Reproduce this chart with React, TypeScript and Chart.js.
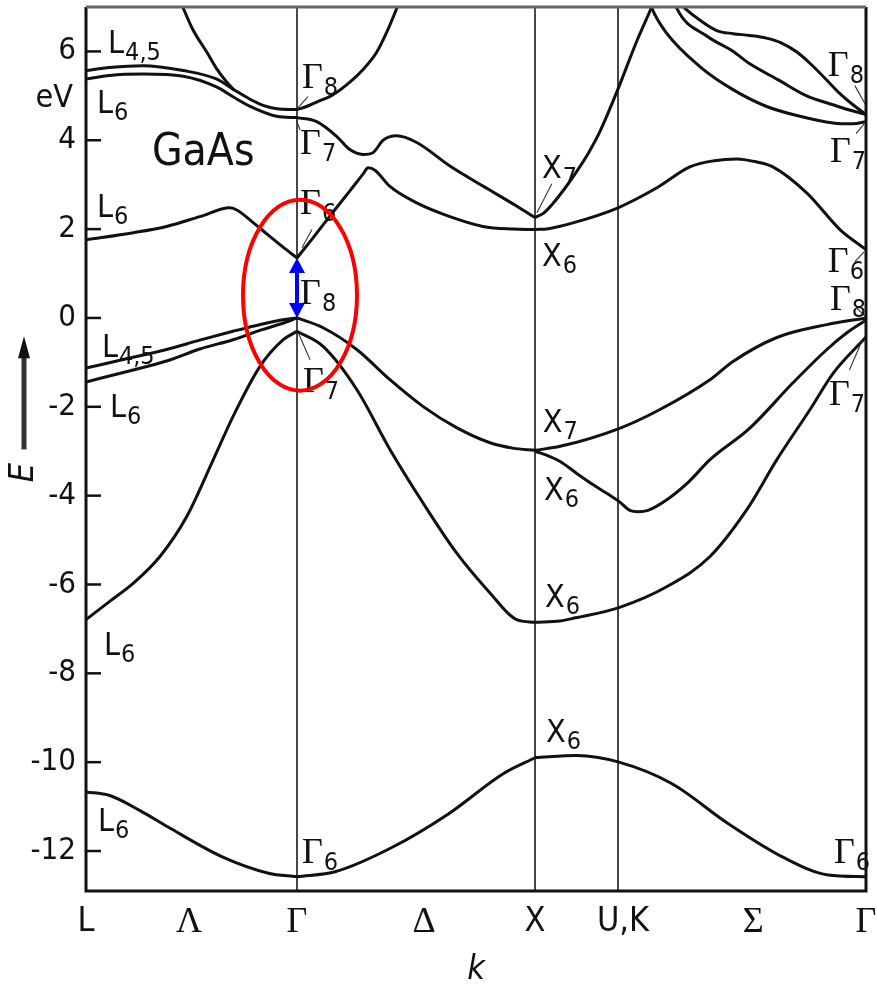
import { useEffect, useRef } from 'react';
import { Chart, registerables } from 'chart.js';
import type { Plugin, ChartConfiguration } from 'chart.js';

Chart.register(...registerables);

type Pt = [number, number];

const NARROW = "'Liberation Sans Narrow', 'DejaVu Sans Condensed', 'Roboto Condensed', sans-serif";
const SERIF = "'Liberation Serif', 'DejaVu Serif', serif";
const INK = '#111';

// k-path coordinate: L – Γ – X – U,K – Γ
const kMin = 0;
const kMax = 3.29;
const symmetryLinesK = [0.89, 1.894, 2.244];
const kTickPos = [0, 0.435, 0.89, 1.426, 1.894, 2.265, 2.814, 3.29];
const kTickText = ['L', 'Λ', 'Γ', 'Δ', 'X', 'U,K', 'Σ', 'Γ'];

// energy axis (eV)
const eMin = -12.9;
const eMax = 7;
const eTickValues = [-12, -10, -8, -6, -4, -2, 0, 2, 4, 6];

// ---- upper conduction bands ----
const upL45: Pt[] = [[0, 5.57], [0.1, 5.64], [0.24, 5.68], [0.41, 5.57], [0.55, 5.38], [0.62, 5.15], [0.69, 4.93], [0.75, 4.78], [0.805, 4.71], [0.89, 4.69]];
const upL6: Pt[] = [[0, 5.38], [0.1, 5.46], [0.24, 5.49], [0.41, 5.44], [0.55, 5.2], [0.62, 4.98], [0.69, 4.77], [0.805, 4.54], [0.89, 4.51]];
const g8Lambda: Pt[] = [[0.4, 7.1], [0.45, 6.5], [0.51, 5.98], [0.55, 5.62], [0.595, 5.3], [0.625, 5.13]];
const g8Delta: Pt[] = [[0.89, 4.69], [0.93, 4.76], [0.973, 4.86], [1.04, 5.02], [1.113, 5.31], [1.17, 5.6], [1.226, 5.98], [1.27, 6.45], [1.31, 6.96], [1.32, 7.1]];
const g7Delta: Pt[] = [[0.89, 4.51], [0.973, 4.42], [1.057, 4.09], [1.113, 3.79], [1.168, 3.68], [1.21, 3.72], [1.253, 4.0], [1.31, 4.1], [1.395, 3.95], [1.535, 3.42], [1.674, 2.97], [1.816, 2.52], [1.894, 2.26]];
const x7Up: Pt[] = [[1.894, 2.26], [1.93, 2.36], [1.97, 2.58], [2.02, 2.92], [2.07, 3.3], [2.12, 3.72], [2.168, 4.2], [2.24, 5.1], [2.32, 6.19], [2.386, 7.0], [2.395, 7.12]];
const sigmaUp1: Pt[] = [[2.38, 7.08], [2.386, 6.98], [2.449, 6.41], [2.589, 5.66], [2.729, 5.14], [2.871, 4.76], [3.011, 4.54], [3.151, 4.39], [3.235, 4.37], [3.29, 4.42]];
const sigmaUp2: Pt[] = [[2.485, 7.08], [2.491, 6.98], [2.62, 6.34], [2.73, 6.0], [2.8, 5.72], [2.92, 5.36], [3.04, 5.0], [3.15, 4.8], [3.22, 4.68], [3.29, 4.58]];
const sigmaUp3: Pt[] = [[2.506, 7.08], [2.53, 6.95], [2.59, 6.7], [2.66, 6.47], [2.73, 6.4], [2.8, 6.36], [2.87, 6.3], [2.93, 6.2], [3.0, 5.98], [3.06, 5.7], [3.12, 5.38], [3.18, 5.05], [3.235, 4.8], [3.29, 4.58]];

// ---- lowest conduction band ----
const cbLambda: Pt[] = [[0, 1.76], [0.2, 1.92], [0.34, 2.06], [0.48, 2.28], [0.607, 2.48], [0.64, 2.42], [0.7, 2.17], [0.77, 1.86], [0.83, 1.6], [0.89, 1.35]];
const cbDelta: Pt[] = [[0.89, 1.35], [0.96, 1.82], [1.043, 2.39], [1.113, 2.86], [1.17, 3.25], [1.19, 3.38], [1.22, 3.32], [1.282, 2.96], [1.395, 2.59], [1.535, 2.28], [1.674, 2.06], [1.8, 2.0], [1.894, 1.99]];
const cbSigma: Pt[] = [[1.894, 1.99], [1.95, 2.01], [2.054, 2.14], [2.244, 2.48], [2.408, 2.93], [2.547, 3.4], [2.65, 3.54], [2.746, 3.58], [2.82, 3.52], [2.897, 3.4], [3.041, 2.81], [3.18, 1.99], [3.29, 1.54]];

// ---- valence bands ----
const vbL45: Pt[] = [[0, -1.13], [0.17, -0.92], [0.34, -0.71], [0.48, -0.5], [0.62, -0.3], [0.74, -0.14], [0.83, -0.04], [0.89, 0]];
const vbL6: Pt[] = [[0, -1.44], [0.17, -1.21], [0.34, -0.97], [0.48, -0.7], [0.62, -0.49], [0.74, -0.27], [0.83, -0.12], [0.89, 0]];
const soLambda: Pt[] = [[0, -6.79], [0.1, -6.38], [0.2, -5.97], [0.312, -5.37], [0.425, -4.47], [0.537, -3.19], [0.621, -2.21], [0.734, -1.09], [0.832, -0.49], [0.89, -0.3]];
const hhDelta: Pt[] = [[0.89, 0], [1.0, -0.22], [1.142, -0.71], [1.282, -1.39], [1.421, -1.99], [1.563, -2.47], [1.704, -2.81], [1.8, -2.93], [1.894, -2.98]];
const soDelta: Pt[] = [[0.89, -0.3], [1.0, -0.64], [1.142, -1.61], [1.282, -2.96], [1.421, -4.16], [1.563, -5.29], [1.704, -6.19], [1.816, -6.79], [1.894, -6.85]];
const hhSigma: Pt[] = [[1.894, -2.98], [2.0, -2.89], [2.248, -2.49], [2.421, -2.06], [2.632, -1.39], [2.729, -0.98], [2.914, -0.44], [3.125, -0.15], [3.29, 0]];
const lhSigma: Pt[] = [[1.894, -3.0], [1.957, -3.12], [2.0, -3.23], [2.07, -3.5], [2.138, -3.75], [2.2, -3.96], [2.248, -4.13], [2.294, -4.33], [2.33, -4.36], [2.37, -4.33], [2.45, -4.09], [2.54, -3.7], [2.632, -3.19], [2.8, -2.48], [2.982, -1.46], [3.125, -0.71], [3.208, -0.34], [3.29, -0.05]];
const soSigma: Pt[] = [[1.894, -6.85], [2.0, -6.82], [2.065, -6.75], [2.248, -6.52], [2.453, -6.04], [2.632, -5.37], [2.788, -4.31], [2.914, -3.19], [3.054, -2.06], [3.152, -1.24], [3.29, -0.43]];

// ---- deepest (s-like) valence band ----
const sLambda: Pt[] = [[0, -10.67], [0.1, -10.75], [0.228, -11.09], [0.346, -11.46], [0.582, -12.15], [0.77, -12.5], [0.89, -12.58]];
const sDelta: Pt[] = [[0.89, -12.58], [1.054, -12.46], [1.29, -11.92], [1.527, -11.17], [1.763, -10.25], [1.894, -9.9]];
const sSigma: Pt[] = [[1.894, -9.9], [2.07, -9.85], [2.248, -10.0], [2.47, -10.48], [2.708, -11.38], [2.944, -12.15], [3.13, -12.54], [3.29, -12.58]];

const bandSegments: Pt[][] = [
  upL45, upL6, g8Lambda, g8Delta, g7Delta, x7Up, sigmaUp1, sigmaUp2, sigmaUp3,
  cbLambda, cbDelta, cbSigma,
  vbL45, vbL6, soLambda, hhDelta, soDelta, hhSigma, lhSigma, soSigma,
  sLambda, sDelta, sSigma,
];

// direct gap at Γ: Γ8 (valence top) to Γ6 (conduction bottom)
const gapK = 0.89;
const gapValence = 0;
const gapConduction = 1.35;

// level labels: main letter + subscript, anchored at left/baseline
const bandTags: { k: number; e: number; main: string; sub: string }[] = [
  { k: 0.093, e: 5.97, main: 'L', sub: '4,5' },
  { k: 0.046, e: 4.62, main: 'L', sub: '6' },
  { k: 0.046, e: 2.28, main: 'L', sub: '6' },
  { k: 0.067, e: -0.89, main: 'L', sub: '4,5' },
  { k: 0.101, e: -2.24, main: 'L', sub: '6' },
  { k: 0.076, e: -7.58, main: 'L', sub: '6' },
  { k: 0.051, e: -11.56, main: 'L', sub: '6' },
  { k: 0.911, e: 5.18, main: 'Γ', sub: '8' },
  { k: 0.903, e: 3.68, main: 'Γ', sub: '7' },
  { k: 0.903, e: 2.33, main: 'Γ', sub: '6' },
  { k: 0.903, e: 0.32, main: 'Γ', sub: '8' },
  { k: 0.915, e: -1.66, main: 'Γ', sub: '7' },
  { k: 0.911, e: -12.26, main: 'Γ', sub: '6' },
  { k: 1.923, e: 3.16, main: 'X', sub: '7' },
  { k: 1.923, e: 1.18, main: 'X', sub: '6' },
  { k: 1.927, e: -2.56, main: 'X', sub: '7' },
  { k: 1.932, e: -4.09, main: 'X', sub: '6' },
  { k: 1.936, e: -6.5, main: 'X', sub: '6' },
  { k: 1.94, e: -9.54, main: 'X', sub: '6' },
  { k: 3.129, e: 5.45, main: 'Γ', sub: '8' },
  { k: 3.138, e: 3.5, main: 'Γ', sub: '7' },
  { k: 3.129, e: 1.04, main: 'Γ', sub: '6' },
  { k: 3.138, e: 0.19, main: 'Γ', sub: '8' },
  { k: 3.134, e: -1.95, main: 'Γ', sub: '7' },
  { k: 3.155, e: -12.26, main: 'Γ', sub: '6' },
];

// short leader strokes from a label to its level: [k1, e1, k2, e2]
const leaderLines: [number, number, number, number][] = [
  [0.936, 4.98, 0.894, 4.73],
  [0.887, 4.46, 0.903, 4.23],
  [0.953, 1.99, 0.911, 1.58],
  [0.896, -0.34, 0.945, -0.94],
  [1.965, 3.02, 1.902, 2.37],
  [3.243, 5.23, 3.286, 4.82],
  [3.248, 4.15, 3.282, 4.37],
  [3.243, 1.27, 3.282, 1.49],
  [3.25, 0.23, 3.286, 0.04],
  [3.22, -1.17, 3.275, -0.49],
];

const decor: Plugin<'scatter'> = {
  id: 'bandDecor',
  beforeDatasetsDraw(chart) {
    const { ctx, chartArea: a } = chart;
    const xs = chart.scales.x;
    ctx.save();
    ctx.strokeStyle = '#333';
    ctx.lineWidth = 1.8;
    for (const k of symmetryLinesK) {
      const px = xs.getPixelForValue(k);
      ctx.beginPath();
      ctx.moveTo(px, a.top);
      ctx.lineTo(px, a.bottom);
      ctx.stroke();
    }
    ctx.restore();
  },
  afterDatasetsDraw(chart) {
    const { ctx, chartArea: a } = chart;
    const xs = chart.scales.x;
    const ys = chart.scales.y;
    const px = (k: number) => xs.getPixelForValue(k);
    const py = (e: number) => ys.getPixelForValue(e);
    ctx.save();

    // frame
    ctx.lineWidth = 3;
    ctx.strokeStyle = INK;
    ctx.beginPath();
    ctx.moveTo(a.left, a.top);
    ctx.lineTo(a.left, a.bottom);
    ctx.lineTo(a.right, a.bottom);
    ctx.lineTo(a.right, a.top);
    ctx.stroke();
    ctx.strokeStyle = '#666';
    ctx.beginPath();
    ctx.moveTo(a.left, a.top);
    ctx.lineTo(a.right, a.top);
    ctx.stroke();

    // inward tick marks on the energy axis
    ctx.strokeStyle = INK;
    ctx.lineWidth = 2.5;
    for (const v of eTickValues) {
      const y = py(v);
      ctx.beginPath();
      ctx.moveTo(a.left, y);
      ctx.lineTo(a.left + 15, y);
      ctx.stroke();
    }

    // leaders
    ctx.strokeStyle = '#333';
    ctx.lineWidth = 1.1;
    for (const [k1, e1, k2, e2] of leaderLines) {
      ctx.beginPath();
      ctx.moveTo(px(k1), py(e1));
      ctx.lineTo(px(k2), py(e2));
      ctx.stroke();
    }

    // level labels
    ctx.fillStyle = INK;
    ctx.textAlign = 'left';
    ctx.textBaseline = 'alphabetic';
    for (const t of bandTags) {
      const x = px(t.k);
      const y = py(t.e);
      ctx.font = t.main === 'Γ' ? `36px ${SERIF}` : `32px ${NARROW}`;
      ctx.fillText(t.main, x, y);
      const w = ctx.measureText(t.main).width;
      ctx.font = `25px ${NARROW}`;
      ctx.fillText(t.sub, x + w + 1, y + 7);
    }

    // material name
    ctx.font = `44px ${NARROW}`;
    ctx.fillText('GaAs', px(0.278), py(3.45));

    // unit next to the energy axis
    ctx.font = `32px ${NARROW}`;
    ctx.textAlign = 'right';
    ctx.fillText('eV', a.left - 13, py(4.76));

    // energy axis title with arrow
    const ax = 24;
    const tip = py(-0.41);
    const tail = py(-2.96);
    ctx.lineWidth = 5;
    ctx.beginPath();
    ctx.moveTo(ax, tail);
    ctx.lineTo(ax, tip + 16);
    ctx.stroke();
    ctx.beginPath();
    ctx.moveTo(ax, tip);
    ctx.lineTo(ax - 6, tip + 22);
    ctx.lineTo(ax + 6, tip + 22);
    ctx.closePath();
    ctx.fill();
    ctx.save();
    ctx.translate(ax, py(-3.48));
    ctx.rotate(-Math.PI / 2);
    ctx.font = `italic 34px ${NARROW}`;
    ctx.textAlign = 'center';
    ctx.textBaseline = 'middle';
    ctx.fillText('E', 0, 0);
    ctx.restore();

    // highlight of the direct gap
    const cx = px(0.9026);
    const cy = py(0.513);
    const rx = px(0.9026 + 0.2404) - cx;
    const ry = cy - py(0.513 + 2.149);
    ctx.strokeStyle = '#ff0000';
    ctx.lineWidth = 4;
    ctx.beginPath();
    ctx.ellipse(cx, cy, rx, ry, 0, 0, Math.PI * 2);
    ctx.stroke();

    const bx = px(gapK);
    const yHi = py(gapConduction);
    const yLo = py(gapValence);
    const head = 15;
    const half = 8;
    ctx.strokeStyle = '#0000ff';
    ctx.fillStyle = '#0000ff';
    ctx.lineWidth = 4;
    ctx.beginPath();
    ctx.moveTo(bx, yHi + head - 1);
    ctx.lineTo(bx, yLo - head + 1);
    ctx.stroke();
    ctx.beginPath();
    ctx.moveTo(bx, yHi);
    ctx.lineTo(bx - half, yHi + head);
    ctx.lineTo(bx + half, yHi + head);
    ctx.closePath();
    ctx.fill();
    ctx.beginPath();
    ctx.moveTo(bx, yLo);
    ctx.lineTo(bx - half, yLo - head);
    ctx.lineTo(bx + half, yLo - head);
    ctx.closePath();
    ctx.fill();

    ctx.restore();
  },
};

const isGreek = (s: string) => /[ΓΛΔΣ]/.test(s);

const config: ChartConfiguration<'scatter'> = {
  type: 'scatter',
  data: {
    datasets: bandSegments.map((seg) => ({
      data: seg.map(([k, e]) => ({ x: k, y: e })),
      showLine: true,
      borderColor: INK,
      borderWidth: 3,
      pointRadius: 0,
      pointHoverRadius: 0,
      fill: false,
      cubicInterpolationMode: 'monotone' as const,
    })),
  },
  options: {
    responsive: false,
    animation: false,
    devicePixelRatio: 1,
    events: [],
    layout: { padding: { top: 7, right: 11, left: 0, bottom: 0 } },
    plugins: {
      legend: { display: false },
      tooltip: { enabled: false },
    },
    scales: {
      x: {
        type: 'linear',
        min: kMin,
        max: kMax,
        grid: { display: false, drawTicks: false },
        border: { display: false },
        afterBuildTicks: (s) => {
          s.ticks = kTickPos.map((v) => ({ value: v }));
        },
        afterFit: (s) => {
          s.height = 93;
          s.paddingLeft = 0;
          s.paddingRight = 0;
        },
        ticks: {
          autoSkip: false,
          maxRotation: 0,
          minRotation: 0,
          padding: 14,
          color: INK,
          font: (c) => {
            const label = kTickText[c.index] ?? '';
            return isGreek(label)
              ? { family: SERIF, size: 36, lineHeight: 1 }
              : { family: NARROW, size: 34, lineHeight: 1 };
          },
          callback: (_v, i) => kTickText[i],
        },
        title: {
          display: true,
          text: 'k',
          color: INK,
          font: { family: NARROW, size: 34, style: 'italic', lineHeight: 0.8 },
          padding: 0,
        },
      },
      y: {
        type: 'linear',
        min: eMin,
        max: eMax,
        grid: { display: false, drawTicks: false },
        border: { display: false },
        afterBuildTicks: (s) => {
          s.ticks = eTickValues.map((v) => ({ value: v }));
        },
        afterFit: (s) => {
          s.width = 86;
          s.paddingTop = 0;
          s.paddingBottom = 0;
        },
        ticks: {
          padding: 10,
          color: INK,
          font: { family: NARROW, size: 31 },
          callback: (v) => String(v),
        },
      },
    },
  },
  plugins: [decor],
};

export default function App() {
  const ref = useRef<HTMLCanvasElement>(null);
  useEffect(() => {
    document.body.style.margin = '0';
    document.body.style.overflow = 'hidden';
    const chart = new Chart(ref.current as HTMLCanvasElement, config);
    return () => chart.destroy();
  }, []);
  return (
    <div style={{ width: 877, height: 984, background: '#fff' }}>
      <canvas ref={ref} width={877} height={984} style={{ display: 'block' }} />
    </div>
  );
}
